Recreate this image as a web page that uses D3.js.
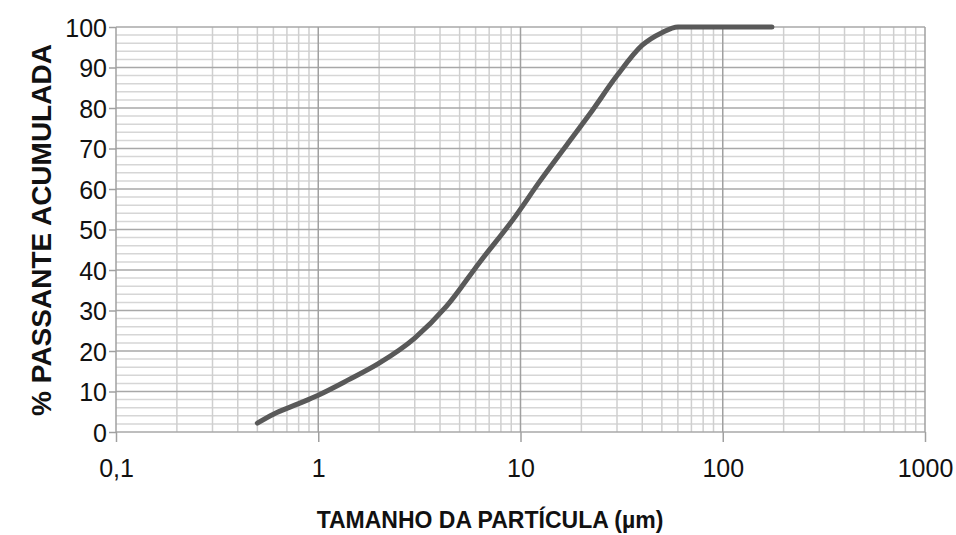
<!DOCTYPE html>
<html lang="pt">
<head>
    <meta charset="UTF-8">
    <title>Curva granulométrica</title>
    <script src="https://d3js.org/d3.v7.min.js"></script>
    <style>
        body { margin: 0; background: #fff; }
        text { font-family: "Liberation Sans", Arial, sans-serif; fill: #111; }
        .tick-label { font-size: 25px; }
        .axis-title { font-size: 23px; font-weight: bold; }
        .curve { fill: none; stroke: #595959; stroke-width: 5px; stroke-linecap: round; stroke-linejoin: round; }
    </style>
</head>
<body>
    <div id="chart"></div>
    <script>
        // Data: particle size (µm) vs cumulative % passing
        const sizes   = [0.5, 0.6, 0.8, 1, 1.4, 2, 3, 4.3, 6.3, 9.2, 12.5, 17, 22, 30, 40, 50, 60, 100, 175];
        const passing = [2.2, 4.4, 7.0, 9.1, 12.8, 17.0, 23.2, 31, 42, 52.5, 62, 71, 78.5, 88, 95.5, 98.6, 100, 100, 100];
        const xTicks = [0.1, 1, 10, 100, 1000];
        const yTicks = [0, 10, 20, 30, 40, 50, 60, 70, 80, 90, 100];

        const margin = { top: 27, right: 31, bottom: 103, left: 116 },
              width = 956 - margin.left - margin.right,
              height = 535 - margin.top - margin.bottom;

        const svg = d3.select("#chart")
                      .append("svg")
                      .attr("width", 956)
                      .attr("height", 535)
                      .append("g")
                      .attr("transform", `translate(${margin.left},${margin.top})`);

        const x = d3.scaleLog().domain([0.1, 1000]).range([0, width]);
        const y = d3.scaleLinear().domain([0, 100]).range([height, 0]);

        // Minor grid: 2..9 within each decade, every 2 % vertically
        const minorX = [];
        for (let d = 0.1; d < 1000; d *= 10) {
            for (let k = 2; k <= 9; k++) minorX.push(+(d * k).toPrecision(3));
        }
        const minorY = d3.range(0, 101, 2).filter(v => v % 10 !== 0);

        svg.append("g").selectAll("line").data(minorY).join("line")
           .attr("x1", 0).attr("x2", width)
           .attr("y1", d => y(d)).attr("y2", d => y(d))
           .attr("stroke", "#d6d6d6").attr("stroke-width", 1.5);

        svg.append("g").selectAll("line").data(minorX).join("line")
           .attr("x1", d => x(d)).attr("x2", d => x(d))
           .attr("y1", 0).attr("y2", height)
           .attr("stroke", "#cfcfcf").attr("stroke-width", 1.5);

        // Major grid
        svg.append("g").selectAll("line").data(yTicks).join("line")
           .attr("x1", 0).attr("x2", width)
           .attr("y1", d => y(d)).attr("y2", d => y(d))
           .attr("stroke", "#a8a8a8").attr("stroke-width", 1.5);

        svg.append("g").selectAll("line").data(xTicks).join("line")
           .attr("x1", d => x(d)).attr("x2", d => x(d))
           .attr("y1", 0).attr("y2", height)
           .attr("stroke", "#a0a0a0").attr("stroke-width", 1.5);

        // Axes
        const fmt = d3.formatLocale({ decimal: ",", thousands: "", grouping: [3], currency: ["", ""] }).format("~g");

        const xAxis = svg.append("g")
           .attr("transform", `translate(0,${height})`)
           .call(d3.axisBottom(x).tickValues(xTicks).tickSize(10).tickFormat(fmt));
        const yAxis = svg.append("g")
           .call(d3.axisLeft(y).tickValues(yTicks).tickSize(7));

        [xAxis, yAxis].forEach(a => {
            a.select(".domain").remove();
            a.selectAll(".tick line").attr("stroke", "#a0a0a0").attr("stroke-width", 1.5);
            a.selectAll("text").attr("class", "tick-label").attr("fill", "#111");
        });
        xAxis.selectAll("text").attr("y", 45).attr("dy", 0);
        yAxis.selectAll("text").attr("x", -9).attr("dy", "0.36em");

        // Curve
        const pts = sizes.map((s, i) => [s, passing[i]]);
        svg.append("path")
           .datum(pts)
           .attr("class", "curve")
           .attr("d", d3.line().x(d => x(d[0])).y(d => y(d[1])).curve(d3.curveMonotoneX));

        // Axis titles
        svg.append("text")
           .attr("class", "axis-title")
           .attr("text-anchor", "middle")
           .attr("x", 490 - margin.left)
           .attr("y", 528 - margin.top)
           .text("TAMANHO DA PARTÍCULA (µm)");

        svg.append("text")
           .attr("class", "axis-title")
           .attr("text-anchor", "middle")
           .attr("transform", `translate(${51 - margin.left},${230 - margin.top}) rotate(-90)`)
           .style("font-size", "28px")
           .text("% PASSANTE ACUMULADA");
    </script>
</body>
</html>
